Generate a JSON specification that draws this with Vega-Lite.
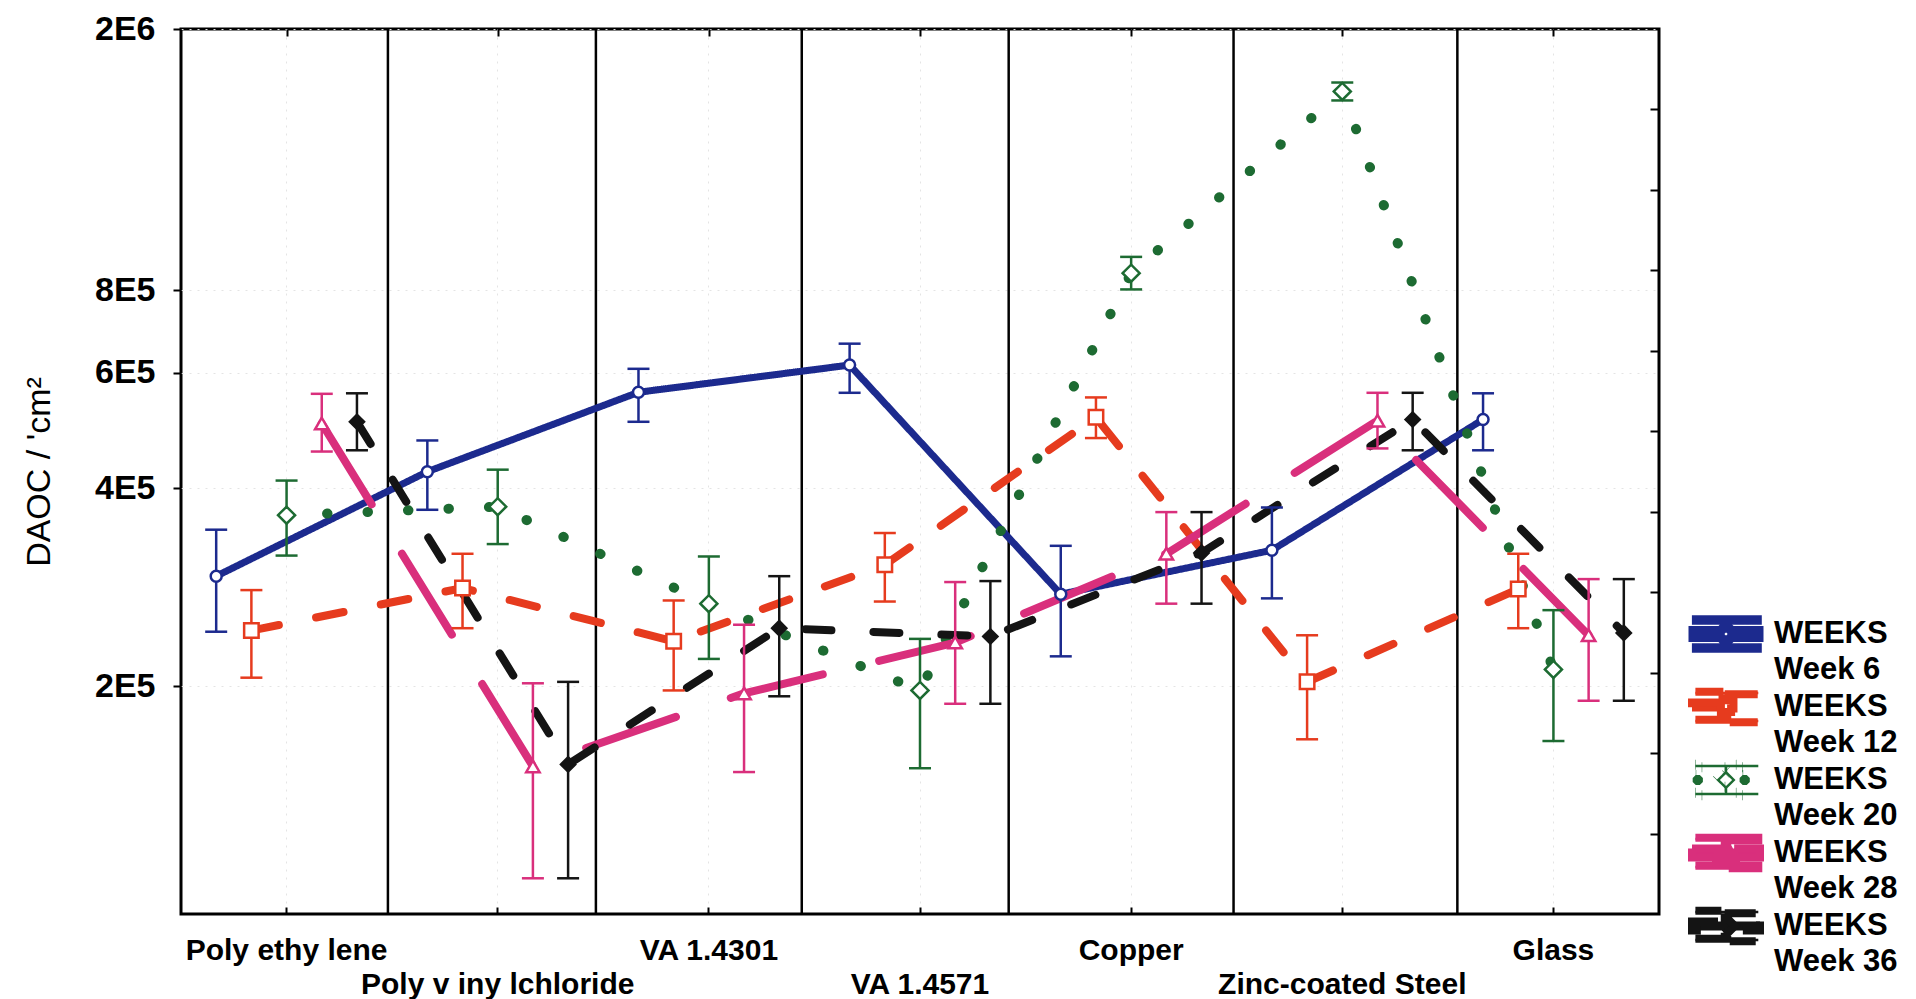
{
  "$schema": "https://vega.github.io/schema/vega-lite/v6.json",
  "width": 1478,
  "height": 885,
  "autosize": {"type": "none"},
  "padding": {"left": 181, "top": 29, "right": 257, "bottom": 85},
  "background": "white",
  "config": {
    "font": "Liberation Sans",
    "view": {"stroke": "black", "strokeWidth": 3},
    "axis": {"domain": false, "labelColor": "black", "tickColor": "black", "titleColor": "black"}
  },
  "layer": [
    {
      "data": {"values": [{"pos": 0.48}, {"pos": 1.465}, {"pos": 2.44}, {"pos": 3.42}, {"pos": 4.485}, {"pos": 5.545}]},
      "mark": {"type": "rule", "color": "black", "strokeWidth": 2.5},
      "encoding": {
        "x": {"field": "pos", "type": "quantitative", "scale": {"domain": [-0.5, 6.5], "nice": false, "zero": false},
          "axis": {"orient": "top", "values": [0, 1, 2, 3, 4, 5, 6], "labels": false, "tickSize": -7, "tickWidth": 2, "grid": false, "title": null}},
        "y": {"datum": 0, "type": "quantitative", "scale": {"domain": [0, 11], "nice": false, "zero": false},
          "axis": {"orient": "right", "values": [1, 2, 3, 4, 5, 6, 7, 8, 9, 10], "labels": false, "tickSize": -9, "tickWidth": 2, "grid": false, "title": null}},
        "y2": {"datum": 11}
      }
    },
    {
      "data": {"values": [
        {"material": "Poly ethy lene", "cat": 0, "week": "Week 6", "mean": 294000, "lo": 242000, "hi": 346000},
        {"material": "Poly v iny lchloride", "cat": 1, "week": "Week 6", "mean": 424000, "lo": 371000, "hi": 473000},
        {"material": "VA 1.4301", "cat": 2, "week": "Week 6", "mean": 560000, "lo": 505000, "hi": 608000},
        {"material": "VA 1.4571", "cat": 3, "week": "Week 6", "mean": 616000, "lo": 559000, "hi": 664000},
        {"material": "Copper", "cat": 4, "week": "Week 6", "mean": 276000, "lo": 222000, "hi": 327000},
        {"material": "Zinc-coated Steel", "cat": 5, "week": "Week 6", "mean": 322000, "lo": 272000, "hi": 374000},
        {"material": "Glass", "cat": 6, "week": "Week 6", "mean": 509000, "lo": 457000, "hi": 558000},
        {"material": "Poly ethy lene", "cat": 0, "week": "Week 12", "mean": 243000, "lo": 206000, "hi": 280000},
        {"material": "Poly v iny lchloride", "cat": 1, "week": "Week 12", "mean": 282000, "lo": 245000, "hi": 318000},
        {"material": "VA 1.4301", "cat": 2, "week": "Week 12", "mean": 234000, "lo": 197000, "hi": 270000},
        {"material": "VA 1.4571", "cat": 3, "week": "Week 12", "mean": 306000, "lo": 269000, "hi": 342000},
        {"material": "Copper", "cat": 4, "week": "Week 12", "mean": 513000, "lo": 477000, "hi": 550000},
        {"material": "Zinc-coated Steel", "cat": 5, "week": "Week 12", "mean": 203000, "lo": 166000, "hi": 239000},
        {"material": "Glass", "cat": 6, "week": "Week 12", "mean": 281000, "lo": 245000, "hi": 318000},
        {"material": "Poly ethy lene", "cat": 0, "week": "Week 20", "mean": 364000, "lo": 316000, "hi": 411000},
        {"material": "Poly v iny lchloride", "cat": 1, "week": "Week 20", "mean": 375000, "lo": 329000, "hi": 427000},
        {"material": "VA 1.4301", "cat": 2, "week": "Week 20", "mean": 267000, "lo": 220000, "hi": 315000},
        {"material": "VA 1.4571", "cat": 3, "week": "Week 20", "mean": 197000, "lo": 150000, "hi": 236000},
        {"material": "Copper", "cat": 4, "week": "Week 20", "mean": 850000, "lo": 803000, "hi": 900000},
        {"material": "Zinc-coated Steel", "cat": 5, "week": "Week 20", "mean": 1607000, "lo": 1557000, "hi": 1658000},
        {"material": "Glass", "cat": 6, "week": "Week 20", "mean": 212000, "lo": 165000, "hi": 261000},
        {"material": "Poly ethy lene", "cat": 0, "week": "Week 28", "mean": 502000, "lo": 455000, "hi": 557000},
        {"material": "Poly v iny lchloride", "cat": 1, "week": "Week 28", "mean": 151000, "lo": 102000, "hi": 202000},
        {"material": "VA 1.4301", "cat": 2, "week": "Week 28", "mean": 195000, "lo": 148000, "hi": 248000},
        {"material": "VA 1.4571", "cat": 3, "week": "Week 28", "mean": 233000, "lo": 188000, "hi": 288000},
        {"material": "Copper", "cat": 4, "week": "Week 28", "mean": 318000, "lo": 267000, "hi": 368000},
        {"material": "Zinc-coated Steel", "cat": 5, "week": "Week 28", "mean": 507000, "lo": 460000, "hi": 559000},
        {"material": "Glass", "cat": 6, "week": "Week 28", "mean": 239000, "lo": 190000, "hi": 291000},
        {"material": "Poly ethy lene", "cat": 0, "week": "Week 36", "mean": 505000, "lo": 457000, "hi": 558000},
        {"material": "Poly v iny lchloride", "cat": 1, "week": "Week 36", "mean": 152000, "lo": 102000, "hi": 203000},
        {"material": "VA 1.4301", "cat": 2, "week": "Week 36", "mean": 245000, "lo": 193000, "hi": 294000},
        {"material": "VA 1.4571", "cat": 3, "week": "Week 36", "mean": 238000, "lo": 188000, "hi": 289000},
        {"material": "Copper", "cat": 4, "week": "Week 36", "mean": 319000, "lo": 267000, "hi": 368000},
        {"material": "Zinc-coated Steel", "cat": 5, "week": "Week 36", "mean": 509000, "lo": 457000, "hi": 559000},
        {"material": "Glass", "cat": 6, "week": "Week 36", "mean": 241000, "lo": 190000, "hi": 291000}
      ]},
      "encoding": {
        "x": {"field": "material", "type": "nominal",
          "scale": {"type": "band", "domain": ["Poly ethy lene", "Poly v iny lchloride", "VA 1.4301", "VA 1.4571", "Copper", "Zinc-coated Steel", "Glass"], "paddingInner": 0, "paddingOuter": 0},
          "axis": {"orient": "bottom", "title": null, "labelAngle": 0, "labelFontSize": 30, "labelFontWeight": "bold", "labelBaseline": "top", "labelLineHeight": 34, "labelPadding": 28, "labelOverlap": false, "labelLimit": 400,
            "labelExpr": "indexof(['Poly v iny lchloride', 'VA 1.4571', 'Zinc-coated Steel'], datum.value) >= 0 ? ['', datum.label] : datum.label",
            "tickSize": -7, "tickWidth": 2, "grid": true, "gridColor": "#e4e4e4", "gridDash": [2, 6], "bandPosition": 0.5}},
        "xOffset": {"field": "week", "type": "nominal", "scale": {"type": "point", "domain": ["Week 6", "Week 12", "Week 20", "Week 28", "Week 36"], "padding": 1.33}},
        "color": {"field": "week", "type": "nominal",
          "scale": {"domain": ["Week 6", "Week 12", "Week 20", "Week 28", "Week 36"], "range": ["#1c2a8e", "#e63b1e", "#1d6b32", "#d92f7c", "#141414"]},
          "legend": {"orient": "none", "legendX": 1506, "legendY": 575, "title": null, "padding": 0,
            "symbolSize": 4624, "symbolStrokeWidth": 0, "symbolOpacity": 1, "clipHeight": 60,
            "labelExpr": "'WEEKS'", "labelFontSize": 31, "labelFontWeight": "bold", "labelOffset": 9, "labelLimit": 400, "labelColor": "black", "rowPadding": 13,
            "encoding": {"symbols": {
              "shape": {"value": {"expr": "datum.value === 'Week 6' ? 'M-0.9,-0.45H0.95V-0.376H-0.9Z M-0.9,0.376H0.95V0.45H-0.9Z M-0.037,-0.376H0.037V-0.2H-0.037Z M-0.037,0.2H0.037V0.376H-0.037Z M-1,-0.13H-0.22V0.13H-1Z M0.22,-0.13H1V0.13H0.22Z M-0.09,-0.22L0.09,-0.22L0.22,-0.09L0.22,0.09L0.09,0.22L-0.09,0.22L-0.22,0.09L-0.22,-0.09Z M-0.06,-0.14L-0.14,-0.06L-0.14,0.06L-0.06,0.14L0.06,0.14L0.14,0.06L0.14,-0.06L0.06,-0.14Z' : datum.value === 'Week 12' ? 'M-0.9,-0.45H0.95V-0.376H-0.9Z M-0.9,0.376H0.95V0.45H-0.9Z M-0.037,-0.376H0.037V-0.2H-0.037Z M-0.037,0.2H0.037V0.376H-0.037Z M-1,-0.13H-0.22V0.13H-1Z M-0.22,-0.22H0.22V0.22H-0.22Z M-0.15,-0.15V0.15H0.15V-0.15Z' : datum.value === 'Week 20' ? 'M-0.9,-0.45H0.95V-0.376H-0.9Z M-0.9,0.376H0.95V0.45H-0.9Z M-0.037,-0.376H0.037V-0.2H-0.037Z M-0.037,0.2H0.037V0.376H-0.037Z M-0.89,-0.15L-0.77,-0.15L-0.68,-0.06L-0.68,0.06L-0.77,0.15L-0.89,0.15L-0.98,0.06L-0.98,-0.06Z M0.49,-0.15L0.61,-0.15L0.7,-0.06L0.7,0.06L0.61,0.15L0.49,0.15L0.4,0.06L0.4,-0.06Z M0,-0.28L0.28,0L0,0.28L-0.28,0Z M0,-0.18L-0.18,0L0,0.18L0.18,0Z' : datum.value === 'Week 28' ? 'M-0.9,-0.45H0.95V-0.376H-0.9Z M-0.9,0.376H0.95V0.45H-0.9Z M-0.037,-0.376H0.037V-0.2H-0.037Z M-0.037,0.2H0.037V0.376H-0.037Z M-1,-0.13H-0.24V0.13H-1Z M0.24,-0.13H1V0.13H0.24Z M0,-0.27L0.25,0.2L-0.25,0.2Z M0,-0.13L-0.14,0.13L0.14,0.13Z' : 'M-0.9,-0.45H0.95V-0.376H-0.9Z M-0.9,0.376H0.95V0.45H-0.9Z M-0.037,-0.376H0.037V-0.2H-0.037Z M-0.037,0.2H0.037V0.376H-0.037Z M-1,-0.13H1V0.13H-1Z M0,-0.26L0.26,0L0,0.26L-0.26,0Z'"}},
              "fill": {"value": {"expr": "scale('color', datum.value)"}},
              "stroke": {"value": "transparent"},
              "strokeWidth": {"value": 0},
              "opacity": {"value": 1}
            }}}}
      },
      "layer": [
        {
          "mark": {"type": "line", "strokeCap": "round", "strokeJoin": "round"},
          "encoding": {
            "y": {"field": "mean", "type": "quantitative", "scale": {"type": "log", "domain": [90000, 2000000], "nice": false},
              "axis": {"orient": "left", "values": [200000, 400000, 600000, 800000, 2000000], "labelExpr": "replace(format(datum.value, '.0e'), 'e+', 'E')", "title": "DAOC / 'cm²", "grid": true, "gridColor": "#e4e4e4", "gridDash": [2, 6], "tickSize": 8, "tickWidth": 2, "labelFontSize": 34, "labelFontWeight": "bold", "labelPadding": 18, "titleFontSize": 34, "titleFontWeight": "normal", "titleAngle": 270, "titleX": -132, "titleY": 442.5, "titleAlign": "center", "titleBaseline": "alphabetic"}},
            "order": {"field": "cat"},
            "strokeDash": {"field": "week", "type": "nominal", "scale": {"domain": ["Week 6", "Week 12", "Week 20", "Week 28", "Week 36"], "range": [[1, 0], [28, 38], [0.5, 40], [95, 58], [26, 42]]}, "legend": null},
            "strokeWidth": {"field": "week", "type": "nominal", "scale": {"type": "ordinal", "domain": ["Week 6", "Week 12", "Week 20", "Week 28", "Week 36"], "range": [7, 8, 10, 8, 8]}, "legend": null}
          }
        },
        {
          "mark": {"type": "rule", "strokeWidth": 2.5},
          "encoding": {
            "y": {"field": "lo", "type": "quantitative", "scale": {"type": "log", "domain": [90000, 2000000], "nice": false},
              "axis": {"orient": "left", "values": [200000, 400000, 600000, 800000, 2000000], "labelExpr": "replace(format(datum.value, '.0e'), 'e+', 'E')", "title": "DAOC / 'cm²", "grid": true, "gridColor": "#e4e4e4", "gridDash": [2, 6], "tickSize": 8, "tickWidth": 2, "labelFontSize": 34, "labelFontWeight": "bold", "labelPadding": 18, "titleFontSize": 34, "titleFontWeight": "normal", "titleAngle": 270, "titleX": -132, "titleY": 442.5, "titleAlign": "center", "titleBaseline": "alphabetic"}},
            "y2": {"field": "hi"}
          }
        },
        {
          "mark": {"type": "point", "shape": "M-1,0H1", "size": 484, "strokeWidth": 2.5, "filled": false, "opacity": 1},
          "encoding": {
            "y": {"field": "lo", "type": "quantitative", "scale": {"type": "log", "domain": [90000, 2000000], "nice": false},
              "axis": {"orient": "left", "values": [200000, 400000, 600000, 800000, 2000000], "labelExpr": "replace(format(datum.value, '.0e'), 'e+', 'E')", "title": "DAOC / 'cm²", "grid": true, "gridColor": "#e4e4e4", "gridDash": [2, 6], "tickSize": 8, "tickWidth": 2, "labelFontSize": 34, "labelFontWeight": "bold", "labelPadding": 18, "titleFontSize": 34, "titleFontWeight": "normal", "titleAngle": 270, "titleX": -132, "titleY": 442.5, "titleAlign": "center", "titleBaseline": "alphabetic"}}
          }
        },
        {
          "mark": {"type": "point", "shape": "M-1,0H1", "size": 484, "strokeWidth": 2.5, "filled": false, "opacity": 1},
          "encoding": {
            "y": {"field": "hi", "type": "quantitative", "scale": {"type": "log", "domain": [90000, 2000000], "nice": false},
              "axis": {"orient": "left", "values": [200000, 400000, 600000, 800000, 2000000], "labelExpr": "replace(format(datum.value, '.0e'), 'e+', 'E')", "title": "DAOC / 'cm²", "grid": true, "gridColor": "#e4e4e4", "gridDash": [2, 6], "tickSize": 8, "tickWidth": 2, "labelFontSize": 34, "labelFontWeight": "bold", "labelPadding": 18, "titleFontSize": 34, "titleFontWeight": "normal", "titleAngle": 270, "titleX": -132, "titleY": 442.5, "titleAlign": "center", "titleBaseline": "alphabetic"}}
          }
        },
        {
          "mark": {"type": "point", "filled": false, "strokeWidth": 2.5},
          "encoding": {
            "y": {"field": "mean", "type": "quantitative", "scale": {"type": "log", "domain": [90000, 2000000], "nice": false},
              "axis": {"orient": "left", "values": [200000, 400000, 600000, 800000, 2000000], "labelExpr": "replace(format(datum.value, '.0e'), 'e+', 'E')", "title": "DAOC / 'cm²", "grid": true, "gridColor": "#e4e4e4", "gridDash": [2, 6], "tickSize": 8, "tickWidth": 2, "labelFontSize": 34, "labelFontWeight": "bold", "labelPadding": 18, "titleFontSize": 34, "titleFontWeight": "normal", "titleAngle": 270, "titleX": -132, "titleY": 442.5, "titleAlign": "center", "titleBaseline": "alphabetic"}},
            "shape": {"condition": [
              {"test": "datum.week === 'Week 6'", "value": "circle"},
              {"test": "datum.week === 'Week 12'", "value": "square"},
              {"test": "datum.week === 'Week 28'", "value": "triangle-up"}
            ], "value": "diamond"},
            "size": {"condition": [
              {"test": "datum.week === 'Week 6'", "value": 120},
              {"test": "datum.week === 'Week 12'", "value": 210},
              {"test": "datum.week === 'Week 20'", "value": 290},
              {"test": "datum.week === 'Week 28'", "value": 180}
            ], "value": 200},
            "fill": {"condition": {"test": "datum.week === 'Week 36'", "value": "#141414"}, "value": "white"},
            "opacity": {"field": "week", "type": "nominal", "sort": ["Week 6", "Week 12", "Week 20", "Week 28", "Week 36"], "scale": {"range": [1, 1]},
              "legend": {"orient": "none", "legendX": 1516, "legendY": 611, "title": null, "padding": 0,
                "symbolSize": 4624, "symbolType": "M-1,-0.4H1V0.4H-1Z", "symbolOpacity": 0, "symbolFillColor": "transparent", "symbolStrokeColor": "transparent", "symbolStrokeWidth": 0, "clipHeight": 60,
                "labelFontSize": 31, "labelFontWeight": "bold", "labelOffset": 9, "labelLimit": 400, "labelColor": "black", "rowPadding": 13,
                "encoding": {"symbols": {"opacity": {"value": 0}, "fill": {"value": "transparent"}, "stroke": {"value": "transparent"}, "strokeWidth": {"value": 0}}}}}
          }
        }
      ]
    }
  ],
  "resolve": {"scale": {"x": "independent", "y": "independent"}}
}
